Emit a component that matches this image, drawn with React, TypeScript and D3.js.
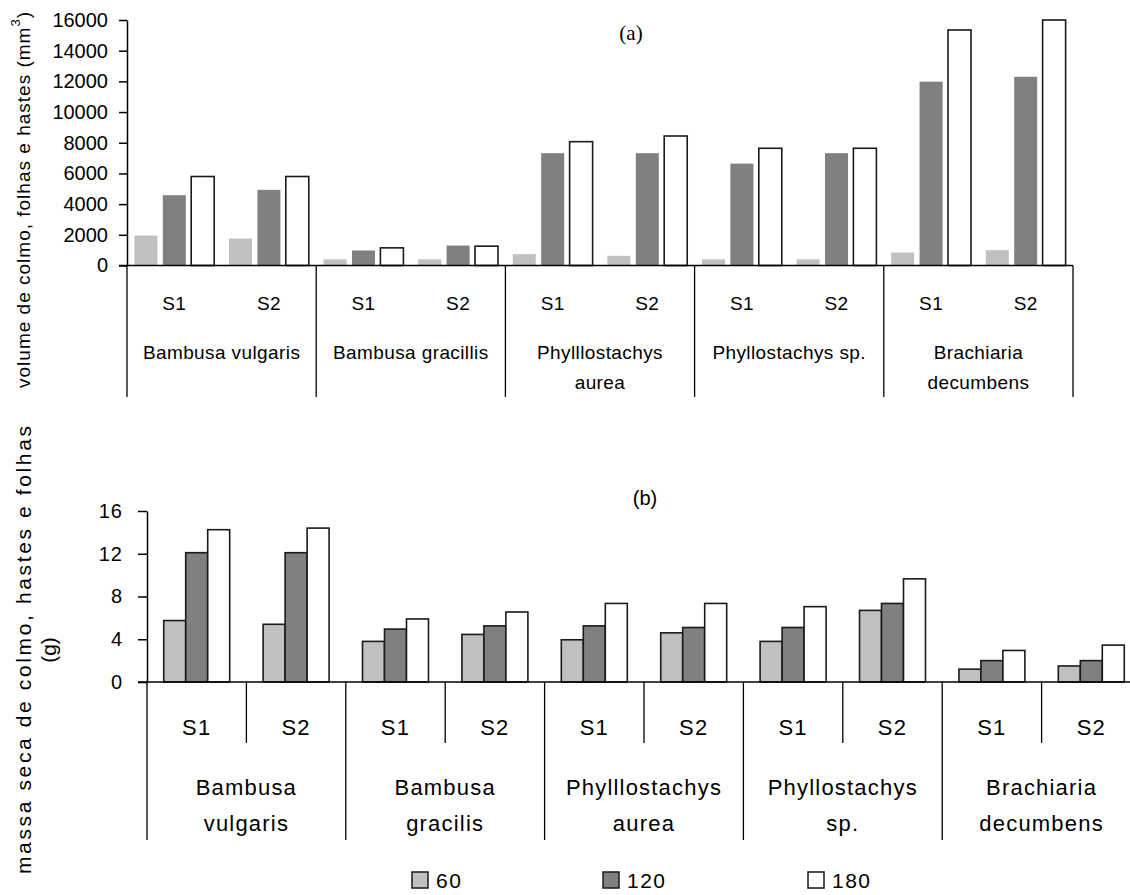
import React, { useRef, useEffect } from "react";
import * as d3 from "d3";

const sites = ["S1", "S2"];
const periods = ["60", "120", "180"];
const periodColors = ["#c0c0c0", "#808080", "#ffffff"];

const topSpecies = [
    ["Bambusa vulgaris"],
    ["Bambusa gracillis"],
    ["Phylllostachys", "aurea"],
    ["Phyllostachys sp."],
    ["Brachiaria", "decumbens"],
];
const bottomSpecies = [
    ["Bambusa", "vulgaris"],
    ["Bambusa", "gracilis"],
    ["Phylllostachys", "aurea"],
    ["Phyllostachys", "sp."],
    ["Brachiaria", "decumbens"],
];

// one value per species x site (S1, S2)
const volume60 = [1950, 1760, 400, 400, 740, 630, 400, 400, 850, 1000];
const volume120 = [4580, 4930, 980, 1300, 7320, 7320, 6640, 7320, 11980, 12300];
const volume180 = [5800, 5800, 1150, 1260, 8070, 8440, 7640, 7640, 15350, 16000];
const volumeTicks = [0, 2000, 4000, 6000, 8000, 10000, 12000, 14000, 16000];

const mass60 = [5.75, 5.4, 3.8, 4.45, 3.95, 4.6, 3.8, 6.7, 1.2, 1.5];
const mass120 = [12.1, 12.1, 4.95, 5.25, 5.25, 5.1, 5.1, 7.35, 2.0, 2.0];
const mass180 = [14.25, 14.4, 5.9, 6.55, 7.35, 7.35, 7.05, 9.65, 2.95, 3.45];
const massTicks = [0, 4, 8, 12, 16];

const SANS = "'Liberation Sans', Arial, sans-serif";

function drawPanel(svg, o) {
    const slots = d3.range(o.series[0].length);
    const x0 = d3.scaleBand().domain(slots).range([o.left, o.right]);
    const xg = d3.scaleBand().domain(d3.range(o.groups.length)).range([o.left, o.right]);
    const x1 = d3
        .scaleBand()
        .domain(periods)
        .range([0, x0.bandwidth()])
        .paddingInner(o.padIn)
        .paddingOuter(o.padOut);
    const y = d3.scaleLinear().domain([0, d3.max(o.ticks)]).range([o.base, o.top]);

    const g = svg.append("g");

    o.series.forEach((vals, k) => {
        g.selectAll(null)
            .data(vals)
            .enter()
            .append("rect")
            .attr("x", (d, i) => x0(i) + x1(periods[k]))
            .attr("y", (d) => y(d))
            .attr("width", x1.bandwidth())
            .attr("height", (d) => y(0) - y(d))
            .attr("fill", periodColors[k])
            .attr("stroke", o.stroked[k] ? "#1a1a1a" : "none")
            .attr("stroke-width", 1.6);
    });

    const yAxis = d3
        .axisLeft(y)
        .tickValues(o.ticks)
        .tickSize(o.tickLen)
        .tickSizeOuter(0)
        .tickPadding(o.tickPad)
        .tickFormat(d3.format("d"));

    const ya = g.append("g").attr("transform", `translate(${o.left},0)`).call(yAxis);
    ya.attr("font-size", o.tickFont).attr("font-family", SANS);
    ya.select(".domain").attr("stroke", "#000").attr("stroke-width", 1.5);
    ya.selectAll(".tick line").attr("stroke", "#000").attr("stroke-width", 1.5);
    ya.selectAll(".tick text")
        .attr("fill", "#000")
        .attr("letter-spacing", o.tickSpacing);

    // baseline
    g.append("line")
        .attr("x1", o.left - o.tickLen)
        .attr("x2", o.right)
        .attr("y1", y(0))
        .attr("y2", y(0))
        .attr("stroke", "#000")
        .attr("stroke-width", 1.5);

    // group separators
    const edges = xg.domain().map((d) => xg(d)).concat([o.right]);
    g.selectAll(null)
        .data(edges)
        .enter()
        .append("line")
        .attr("x1", (d) => d)
        .attr("x2", (d) => d)
        .attr("y1", y(0))
        .attr("y2", o.catBottom)
        .attr("stroke", "#000")
        .attr("stroke-width", 1.3);

    if (o.subBottom) {
        g.selectAll(null)
            .data(xg.domain())
            .enter()
            .append("line")
            .attr("x1", (d) => xg(d) + xg.bandwidth() / 2)
            .attr("x2", (d) => xg(d) + xg.bandwidth() / 2)
            .attr("y1", y(0))
            .attr("y2", o.subBottom)
            .attr("stroke", "#000")
            .attr("stroke-width", 1.3);
    }

    g.selectAll(null)
        .data(slots)
        .enter()
        .append("text")
        .attr("x", (i) => x0(i) + x0.bandwidth() / 2)
        .attr("y", o.siteY)
        .attr("text-anchor", "middle")
        .attr("dominant-baseline", "central")
        .attr("font-family", SANS)
        .attr("font-size", o.catFont)
        .attr("letter-spacing", o.catSpacing)
        .text((i) => sites[i % 2]);

    o.groups.forEach((lines, j) => {
        lines.forEach((line, l) => {
            g.append("text")
                .attr("x", xg(j) + xg.bandwidth() / 2)
                .attr("y", o.groupY[l])
                .attr("text-anchor", "middle")
                .attr("dominant-baseline", "central")
                .attr("font-family", SANS)
                .attr("font-size", o.catFont)
                .attr("letter-spacing", o.catSpacing)
                .text(line);
        });
    });
}

function App() {
    const svgRef = useRef(null);

    useEffect(() => {
        const svg = d3.select(svgRef.current);
        svg.selectAll("*").remove();

        drawPanel(svg, {
            series: [volume60, volume120, volume180],
            ticks: volumeTicks,
            groups: topSpecies,
            left: 127,
            right: 1073,
            top: 20,
            base: 265.5,
            padIn: 0.19,
            padOut: 0.26,
            stroked: [false, false, true],
            tickLen: 8,
            tickPad: 11,
            tickFont: 20,
            tickSpacing: 0,
            catBottom: 397,
            subBottom: null,
            siteY: 303,
            groupY: [352, 382],
            catFont: 19,
            catSpacing: 0.4,
        });

        drawPanel(svg, {
            series: [mass60, mass120, mass180],
            ticks: massTicks,
            groups: bottomSpecies,
            left: 147,
            right: 1141,
            top: 511,
            base: 682,
            padIn: 0,
            padOut: 0.76,
            stroked: [true, true, true],
            tickLen: 9,
            tickPad: 15,
            tickFont: 20,
            tickSpacing: 1,
            catBottom: 840,
            subBottom: 743,
            siteY: 727,
            groupY: [787, 823],
            catFont: 22,
            catSpacing: 1.2,
        });

        svg.append("text")
            .attr("x", 631)
            .attr("y", 33)
            .attr("text-anchor", "middle")
            .attr("dominant-baseline", "central")
            .attr("font-family", "'Liberation Serif', 'DejaVu Serif', serif")
            .attr("font-size", 21)
            .text("(a)");

        svg.append("text")
            .attr("x", 645)
            .attr("y", 498)
            .attr("text-anchor", "middle")
            .attr("dominant-baseline", "central")
            .attr("font-family", SANS)
            .attr("font-size", 20)
            .text("(b)");

        // y axis titles
        const t1 = svg
            .append("text")
            .attr("transform", "translate(23,200) rotate(-90)")
            .attr("text-anchor", "middle")
            .attr("dominant-baseline", "central")
            .attr("font-family", SANS)
            .attr("font-size", 19)
            .attr("textLength", 376)
            .attr("lengthAdjust", "spacing");
        t1.append("tspan").text("volume de colmo, folhas e hastes (mm");
        t1.append("tspan").attr("baseline-shift", "super").attr("font-size", 13).text("3");
        t1.append("tspan").text(")");

        const t2 = svg
            .append("g")
            .attr("transform", "translate(23,650) rotate(-90)")
            .attr("font-family", SANS)
            .attr("font-size", 21)
            .attr("text-anchor", "middle");
        t2.append("text")
            .attr("dominant-baseline", "central")
            .attr("textLength", 448)
            .attr("lengthAdjust", "spacing")
            .text("massa seca de colmo, hastes e folhas");
        t2.append("text")
            .attr("y", 25)
            .attr("dominant-baseline", "central")
            .text("(g)");

        // legend
        const lx = d3.scalePoint().domain(periods).range([412, 808]);
        const legend = svg
            .selectAll(".legend")
            .data(periods)
            .enter()
            .append("g")
            .attr("class", "legend")
            .attr("transform", (d, i) => `translate(${i === 1 ? 603 : lx(d)},872)`);
        legend
            .append("rect")
            .attr("width", 16)
            .attr("height", 16)
            .attr("fill", (d, i) => periodColors[i])
            .attr("stroke", "#1a1a1a")
            .attr("stroke-width", 1.5);
        legend
            .append("text")
            .attr("x", 24)
            .attr("y", 8.5)
            .attr("dominant-baseline", "central")
            .attr("font-family", SANS)
            .attr("font-size", 21)
            .attr("letter-spacing", 1.5)
            .text((d) => d);
    }, []);

    return (
        <svg
            ref={svgRef}
            width={1130}
            height={895}
            style={{ position: "absolute", left: 0, top: 0, background: "#fff" }}
        ></svg>
    );
}

export default App;
